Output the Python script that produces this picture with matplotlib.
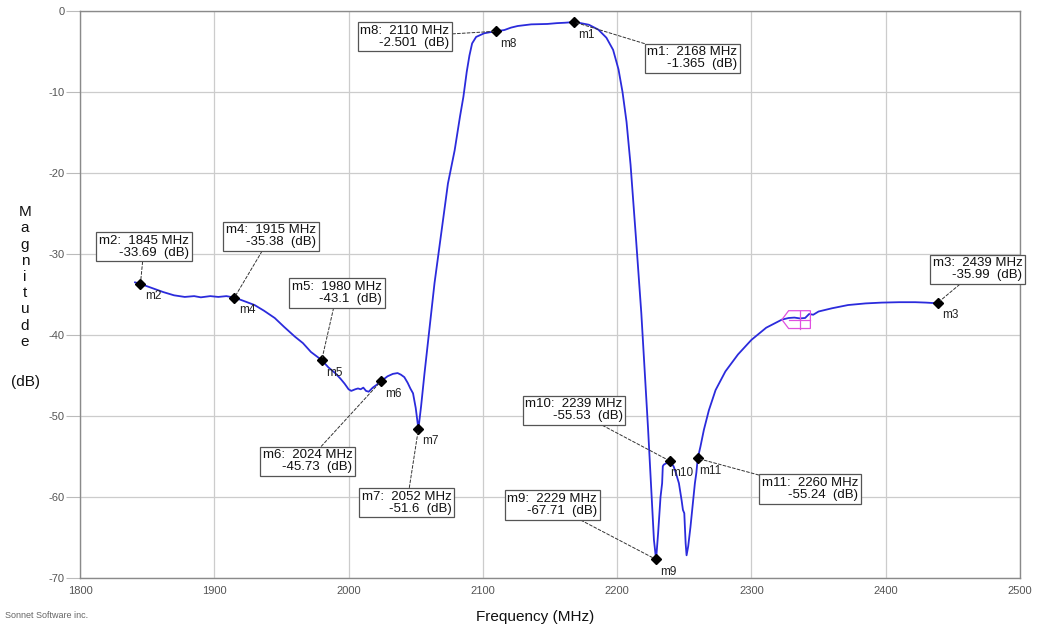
import matplotlib
matplotlib.use("Agg")
import matplotlib.pyplot as plt
from matplotlib.patches import Polygon

plt.rcParams['font.family'] = ['Liberation Sans', 'DejaVu Sans']
plt.rcParams['axes.unicode_minus'] = False

# ---- data ----
freq_mhz = [1841, 1845, 1852, 1862, 1870, 1878, 1885, 1890, 1897, 1903, 1909, 1915,
            1922, 1930, 1937, 1945, 1952, 1960, 1966, 1972, 1980, 1985, 1990, 1994,
            1997, 2000, 2002, 2005, 2007, 2009, 2011, 2013, 2015, 2018, 2020.5, 2024,
            2029, 2033, 2036.5, 2039, 2041.5, 2044, 2046, 2048, 2050, 2052, 2054,
            2056.5, 2060, 2064, 2069, 2074, 2079, 2083, 2085.5, 2088, 2090, 2092,
            2095, 2101, 2106, 2110, 2116, 2121, 2126, 2136, 2148, 2155, 2161, 2168,
            2173, 2179, 2186, 2192, 2197, 2201, 2204, 2207, 2210, 2214, 2218, 2220.7,
            2223, 2225.7, 2227.4, 2229, 2230.5, 2231.5, 2232.3, 2233.5, 2234, 2234.8,
            2237, 2239, 2240.5, 2242, 2243.5, 2246, 2248, 2249, 2250, 2251, 2251.7,
            2252.9, 2254.6, 2255.9, 2257.9, 2259, 2260, 2262, 2264.6, 2268.3, 2273.3,
            2280.6, 2290, 2300, 2311, 2318, 2322.7, 2327.7, 2332, 2336, 2340, 2343,
            2346, 2350, 2360, 2372, 2385, 2397, 2410, 2422, 2430, 2435, 2439]
mag_db = [-33.5, -33.69, -34.1, -34.7, -35.1, -35.3, -35.2, -35.35, -35.2, -35.3, -35.2, -35.38,
          -35.8, -36.3, -37.0, -37.9, -39.0, -40.2, -41.0, -42.1, -43.1, -44.0, -44.7, -45.4,
          -46.0, -46.7, -46.9, -46.7, -46.6, -46.7, -46.5, -46.9, -47.0, -46.5, -46.2, -45.73,
          -45.1, -44.8, -44.7, -44.9, -45.2, -45.9, -46.6, -47.2, -49.0, -51.6, -48.8,
          -44.8, -39.6, -33.6, -27.4, -21.3, -17.2, -13.0, -10.6, -7.5, -5.5, -4.0,
          -3.2, -2.75, -2.6, -2.501, -2.35, -2.05, -1.85, -1.65, -1.6, -1.5, -1.45, -1.365,
          -1.5, -1.7, -2.3, -3.3, -4.8, -7.2, -10.0, -13.7, -19.0, -28.0, -37.3, -45.0,
          -51.5, -60.0, -65.3, -67.71, -64.5, -62.0, -60.0, -58.3, -56.2, -56.0,
          -55.8, -55.53, -55.9, -56.2, -56.9, -58.3, -60.4, -61.6, -62.0, -65.7, -67.2,
          -66.1, -63.7, -61.6, -58.3, -57.0, -55.24, -53.8, -51.7, -49.3, -46.8,
          -44.5, -42.4, -40.6, -39.1, -38.5, -38.1, -37.9, -37.85, -37.95, -37.9, -37.4,
          -37.5, -37.1, -36.7, -36.3, -36.1, -36.0, -35.95, -35.95, -36.0, -36.05, -35.99]

marker_names = ['m1', 'm2', 'm3', 'm4', 'm5', 'm6', 'm7', 'm8', 'm9', 'm10', 'm11']
marker_freq = [2168, 1845, 2439, 1915, 1980, 2024, 2052, 2110, 2229, 2239, 2260]
marker_db = [-1.365, -33.69, -35.99, -35.38, -43.1, -45.73, -51.6, -2.501, -67.71, -55.53, -55.24]

x_ticks = [1800, 1900, 2000, 2100, 2200, 2300, 2400, 2500]
y_ticks = [0, -10, -20, -30, -40, -50, -60, -70]

# label box centres (layout, data coords)
box_pos = {
    'm1': (2256.1, -5.84), 'm2': (1847.7, -29.1), 'm3': (2468.4, -31.9),
    'm4': (1942.2, -27.8), 'm5': (1991.4, -34.8), 'm6': (1969.4, -55.6),
    'm7': (2043.5, -60.7), 'm8': (2042.0, -3.17), 'm9': (2151.5, -61.0),
    'm10': (2167.9, -49.3), 'm11': (2343.6, -59.0),
}

# magenta MTX marker outline (data coords)
mtx_f = [2322.7, 2327.7, 2343.9, 2343.9, 2327.7]
mtx_db = [-38.1, -37.0, -37.0, -39.2, -39.2]

# ---- figure ----
W, H = 1037, 631
fig = plt.figure(figsize=(W / 100, H / 100), dpi=100)
ax = fig.add_axes([80 / W, 1 - 578 / H, (1020 - 80) / W, (578 - 11) / H])

ax.set_xlim(1800, 2500)
ax.set_ylim(-70, 0)
ax.set_xticks(x_ticks)
ax.set_yticks(y_ticks)
ax.set_xticklabels([str(v) for v in x_ticks])
ax.set_yticklabels([str(v) for v in y_ticks])
ax.grid(True, color='#cccccc', linewidth=0.9)
ax.set_axisbelow(True)
for s in ax.spines.values():
    s.set_color('#8a8a8a')
    s.set_linewidth(1.0)
ax.tick_params(axis='y', length=10, color='#bbbbbb', labelsize=8, labelcolor='#555555', pad=1)
ax.tick_params(axis='x', length=0, labelsize=8, labelcolor='#555555', pad=6)

ax.plot(freq_mhz, mag_db, color='#2b2bdc', linewidth=1.3, zorder=3)

# MTX marker
ax.add_patch(Polygon(list(zip(mtx_f, mtx_db)), closed=True, fill=False,
                     edgecolor='#e050e0', linewidth=0.9, zorder=4))
ax.plot([mtx_f[1] + (mtx_f[2] - mtx_f[1]) / 2] * 2, [mtx_db[1], mtx_db[3]],
        color='#e050e0', linewidth=0.9, zorder=4)
ax.plot([mtx_f[1], mtx_f[2]], [mtx_db[0]] * 2, color='#e050e0', linewidth=0.9, zorder=4)

# markers
ax.plot(marker_freq, marker_db, linestyle='none', marker='D', markersize=5,
        color='black', zorder=5, clip_on=False)

for name, f, v in zip(marker_names, marker_freq, marker_db):
    ax.annotate(name, xy=(f, v), xytext=(9, -9), textcoords='offset points',
                ha='center', va='center', fontsize=8.5, color='#222222', zorder=6)
    bx, by = box_pos[name]
    label = f"{name}:  {f} MHz\n{v:.4g}  (dB)"
    ax.annotate(label, xy=(f, v), xytext=(bx, by), textcoords='data',
                ha='center', va='center', multialignment='right',
                fontsize=9.5, color='#111111', linespacing=1.0, zorder=7,
                annotation_clip=False,
                bbox=dict(boxstyle='square,pad=0.2', facecolor='white',
                          edgecolor='#555555', linewidth=0.9),
                arrowprops=dict(arrowstyle='-', linestyle=(0, (3, 2)),
                                color='#333333', linewidth=0.7,
                                shrinkA=0, shrinkB=2))

# axis titles
fig.text(25 / W, 1 - 277 / H, "\n".join("Magnitude"), ha='center', va='center',
         fontsize=11, linespacing=1.2, color='#111111')
fig.text(25 / W, 1 - 382 / H, "(dB)", ha='center', va='center', fontsize=11, color='#111111')
fig.text(535 / W, 1 - 617 / H, "Frequency (MHz)", ha='center', va='center',
         fontsize=11, color='#111111')
fig.text(5 / W, 1 - 615 / H, "Sonnet Software inc.", ha='left', va='center',
         fontsize=6.5, color='#666666')

fig.savefig("out.png", dpi=100)
